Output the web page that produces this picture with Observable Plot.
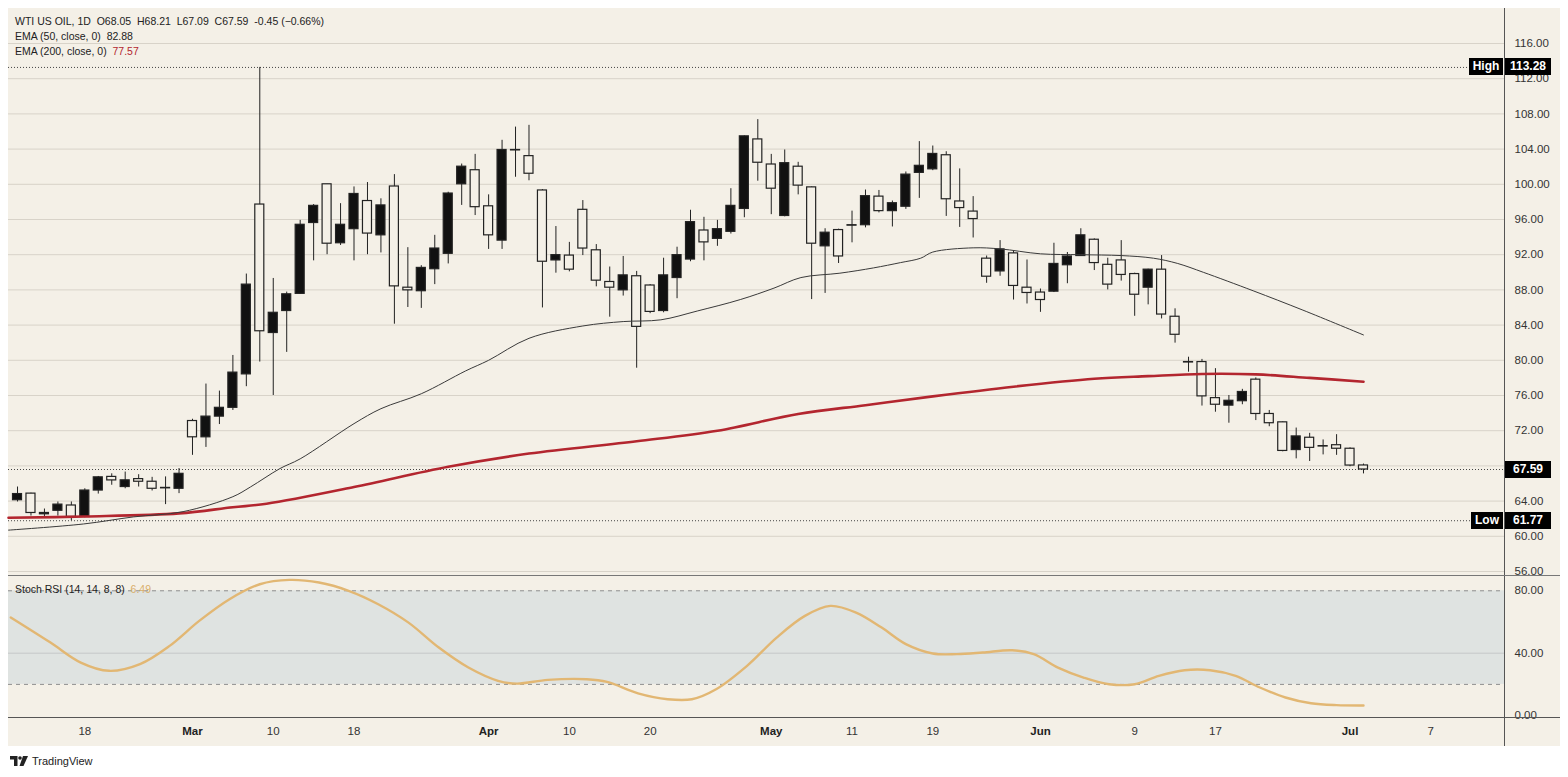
<!DOCTYPE html>
<html><head><meta charset="utf-8">
<script src="https://cdn.jsdelivr.net/npm/d3@7"></script>
<script src="https://cdn.jsdelivr.net/npm/@observablehq/plot@0.6"></script>
<style>
body{margin:0;background:#fff;}
#wrap{position:relative;width:1568px;height:777px;overflow:hidden;font-family:"Liberation Sans",Arial,sans-serif;color:#222;}
#bg{position:absolute;left:8px;top:8px;width:1552px;height:738px;background:#F4F0E7;}
.abs{position:absolute;}
.hdr{position:absolute;left:15px;font-size:10.5px;white-space:pre;color:#222;line-height:12px;}
.box{position:absolute;background:#000;color:#fff;font-weight:bold;font-size:12px;height:17px;line-height:17px;text-align:center;}
.sep{position:absolute;background:#555;}
</style></head><body>
<div id="wrap">
<div id="bg"></div>
<div id="main" class="abs" style="left:0;top:0"></div>
<div id="stoch" class="abs" style="left:0;top:575px"></div>
<div class="sep" style="left:1504px;top:8px;width:1px;height:738px"></div>
<div class="sep" style="left:8px;top:575px;width:1552px;height:1px;background:#777"></div>
<div class="sep" style="left:8px;top:717px;width:1552px;height:1px;background:#555"></div>
<div id="h1" class="hdr" style="top:15px"></div>
<div id="h2" class="hdr" style="top:30px"></div>
<div id="h3" class="hdr" style="top:45px"></div>
<div id="sl" class="hdr" style="top:583px"></div>
<div class="abs" style="left:10px;top:755px;display:flex;align-items:center;gap:3px;font-size:11px;color:#222">
<svg width="19" height="10" viewBox="0 0 19 10"><path d="M0 0h7.5v10h-3.5v-6.5h-4z" fill="#222"/><circle cx="10" cy="2" r="1.8" fill="#222"/><path d="M13 0h5l-4.5 10h-4z" fill="#222"/></svg>
<span>TradingView</span></div>
</div>
<script>
// ---- data ----
const open  = [64.1,64.85,62.5,62.9,63.5,62.2,65.2,66.75,65.6,66.5,66.2,65.5,65.4,73.1,71.25,73.6,74.6,78.4,97.7,83.1,85.6,87.55,95.6,100.0,93.3,94.9,98.1,94.2,99.75,88.25,87.85,90.35,92.1,100.0,101.6,97.5,93.6,103.9,103.2,99.3,91.35,91.9,97.1,92.5,88.9,87.95,89.55,88.5,85.6,89.35,91.45,94.75,93.8,94.6,97.2,105.1,102.25,96.4,102.0,99.65,92.95,94.8,95.3,95.35,98.6,96.95,97.45,101.3,101.7,103.3,98.05,96.9,91.55,90.1,92.15,88.25,87.7,87.8,90.8,91.85,93.7,90.85,91.35,89.8,88.25,90.3,84.95,79.8,79.8,75.7,74.85,75.35,77.8,73.9,72.95,69.8,71.2,70.25,70.35,69.95,68.05];
const high  = [65.6,64.9,63.1,63.9,63.9,65.4,66.8,67.1,67.3,67.0,66.7,66.75,67.7,73.3,77.3,76.5,80.55,89.8,113.28,89.3,87.75,95.9,97.7,100.0,97.8,99.7,100.2,98.35,101.1,92.8,90.75,94.2,99.1,102.3,103.4,98.8,105.0,106.5,106.7,99.4,95.2,93.4,98.15,93.15,90.6,91.8,90.1,88.6,91.6,92.85,97.05,96.25,95.9,99.5,105.5,107.35,103.4,103.9,102.5,99.7,94.95,94.9,96.95,99.35,99.3,98.1,101.4,104.85,104.35,103.7,101.75,98.6,91.85,93.6,92.4,91.4,88.1,93.3,92.25,94.95,93.8,91.6,93.6,89.9,90.35,91.9,85.85,80.35,80.1,79.05,76.0,76.7,78.0,74.3,73.0,72.3,71.7,70.95,71.55,70.05,68.21];
const low   = [63.9,62.3,62.1,62.3,61.77,62.1,64.8,65.8,65.4,65.6,65.15,63.6,64.85,69.2,70.1,72.7,74.3,77.0,79.8,76.0,80.9,87.5,91.3,92.0,93.05,91.3,92.0,92.2,84.1,86.0,85.9,88.6,90.95,97.6,96.45,92.6,92.6,100.8,100.4,85.95,89.9,90.05,91.9,88.35,84.9,87.3,79.1,85.3,85.4,87.0,91.2,91.3,92.95,94.35,96.2,100.35,96.55,96.3,98.8,86.9,87.6,91.0,93.35,95.05,96.75,95.15,97.15,98.4,101.55,96.35,95.1,93.9,88.75,89.55,86.85,86.4,85.45,87.7,88.7,91.8,90.2,88.0,89.0,85.0,86.3,84.7,81.95,78.65,74.8,74.1,72.85,74.95,73.15,72.45,69.6,68.8,68.5,69.25,69.2,67.9,67.09];
const close = [64.8,62.65,62.65,63.6,62.2,65.2,66.7,66.35,66.36,66.2,65.4,65.45,67.1,71.25,73.6,74.6,78.6,88.6,83.3,85.4,87.5,95.4,97.55,93.25,95.4,98.9,94.4,97.6,88.4,87.95,90.5,92.7,98.95,102.0,97.4,94.2,103.9,103.85,101.2,91.2,91.95,90.3,92.7,89.05,88.25,89.65,83.8,85.5,89.65,91.95,95.7,93.4,94.9,97.55,105.45,102.45,99.5,102.4,99.85,93.25,94.5,91.8,95.35,98.65,96.95,97.85,101.1,102.1,103.45,98.3,97.3,96.05,89.5,92.6,88.45,87.65,86.85,90.95,91.8,94.2,91.05,88.6,89.7,87.45,90.3,85.2,82.9,79.75,75.9,74.95,75.4,76.4,73.9,72.85,69.7,71.35,70.05,70.2,69.95,68.04,67.59];

const ema50Idx = [-0.67,4.9,8.6,12.3,16,17.3,19.5,21,25,27,30,33.3,35,38,42,45,47.8,50.5,53.7,56.2,58.2,61.1,63.6,65.6,67.1,68,71,73,76,79,82,84.4,86.2,88.1,91.8,95.5,100];
const ema50    = [60.7,61.4,62.2,62.8,64.5,65.6,67.7,68.8,72.8,74.5,76.2,78.8,80.0,82.5,83.9,84.4,84.6,85.6,86.9,88.2,89.4,89.9,90.5,91.1,91.6,92.3,92.78,92.66,92.1,92.0,91.9,91.6,91.0,90.0,87.9,85.7,82.88];
const ema200Idx = [-0.67,5,12,16,18.5,25,32,38,46,52,58,63,68,74,80,84,88,92,96,100];
const ema200    = [62.1,62.25,62.6,63.3,63.7,65.6,67.9,69.4,70.8,72.0,73.9,74.9,75.9,77.0,77.9,78.2,78.45,78.4,78.0,77.57];

const stochIdx = [-0.5,2.45,4.7,6.8,9.1,11.3,13.5,15.75,18,20.2,22.4,24.6,26.8,29.05,31.3,33.5,35.7,37.1,39.4,42.3,43.8,46.1,48.3,50.1,51.9,54.2,56.4,58.5,60.4,62.3,64.2,66,68,69.8,71.7,73.9,75.5,77.3,79.2,81.1,83,84.8,86.7,88.6,90.5,92.3,94.2,96.1,98,100];
const stochVal = [62.9,46.8,34,28.7,33,44.7,60.7,74.6,84.2,87,85.3,80,71.4,59.6,43.6,30.8,22.3,20.5,22.9,23.3,21.6,14.3,10.5,10.5,16.9,31.9,50,63.9,70.3,66,56.4,45.8,39.8,39.4,40.4,41.9,39.4,30.8,24.4,20.1,20.1,25.5,29.1,29.1,25.5,18,11.6,7.9,6.7,6.49];

const tickIdx    = [5,13,19,25,35,41,47,56,62,68,76,83,89,99,105];
const tickLabels = ["18","Mar","10","18","Apr","10","20","May","11","19","Jun","9","17","Jul","7"];
const monthNames = ["Mar","Apr","May","Jun","Jul"];
const priceTicks = [56,60,64,68,72,76,80,84,88,92,96,100,104,108,112,116];
const stochTicks = [0,40,80];
const stochBand  = [20,80];

// ---- build ----
const BG = "#F4F0E7";
const candles = open.map((o,i)=>({i, o, h:high[i], l:low[i], c:close[i]}));
const e50 = ema50Idx.map((x,k)=>({x, y:ema50[k]}));
const e200 = ema200Idx.map((x,k)=>({x, y:ema200[k]}));
const st = stochIdx.map((x,k)=>({x, y:stochVal[k]}));
const xDomain = [-0.67, 110.55];
const hi = d3.max(high), lo = d3.min(low), last = close[close.length-1];
// axis labels hidden behind the last-price tag (as on TradingView)
const labelTicks = priceTicks.filter(t => Math.abs(t - last) > 1.2);
const W = 1568, ML = 8, MR = 63;
const font = {background:"transparent", fontFamily:"Liberation Sans, Arial, sans-serif", fontSize:"11.5px", color:"#333", overflow:"visible"};

const main = Plot.plot({
  width: W, height: 575, marginLeft: ML, marginRight: MR, marginTop: 8, marginBottom: 0,
  style: font,
  x: {domain: xDomain, axis: null},
  y: {domain: [55.545, 119.977], axis: null},
  marks: [
    Plot.gridY(priceTicks, {stroke: "#D8D3C9", strokeOpacity: 1}),
    Plot.axisY(labelTicks, {anchor: "right", tickSize: 0, tickPadding: 9, tickFormat: d => d.toFixed(2), fill: "#333", label: null}),
    Plot.ruleY([hi, lo, last], {stroke: "#444", strokeDasharray: "1,2", strokeWidth: 1}),
    Plot.ruleX(candles, {x: "i", y1: "l", y2: "h", stroke: "#222", strokeWidth: 1}),
    Plot.rect(candles, {x1: d => d.i - 0.335, x2: d => d.i + 0.335, y1: "o", y2: "c",
      fill: d => d.c >= d.o ? "#111" : BG, stroke: "#222", strokeWidth: 1.2}),
    Plot.line(e200, {x: "x", y: "y", stroke: "#B3262F", strokeWidth: 2.6, curve: "catmull-rom"}),
    Plot.line(e50, {x: "x", y: "y", stroke: "#3a3a3a", strokeWidth: 1, curve: "catmull-rom"})
  ]
});
document.getElementById("main").appendChild(main);

const stoch = Plot.plot({
  width: W, height: 171, marginLeft: ML, marginRight: MR, marginTop: 0, marginBottom: 29,
  style: font,
  x: {domain: xDomain, axis: null},
  y: {domain: [-1.22, 89.8], axis: null},
  marks: [
    Plot.rect([0], {x1: xDomain[0], x2: xDomain[1], y1: stochBand[0], y2: stochBand[1], fill: "#DFE3E1"}),
    Plot.ruleY([40], {stroke: "#C5C9C8", strokeWidth: 1}),
    Plot.ruleY(stochBand, {stroke: "#8f8f8f", strokeDasharray: "4,4", strokeWidth: 1}),
    Plot.axisY(stochTicks, {anchor: "right", tickSize: 0, tickPadding: 9, tickFormat: d => d.toFixed(2), fill: "#333", label: null}),
    Plot.line(st, {x: "x", y: "y", stroke: "#E2B773", strokeWidth: 2.4, curve: "catmull-rom"}),
    Plot.axisX(tickIdx.filter((t,k)=>!monthNames.includes(tickLabels[k])), {anchor: "bottom", tickSize: 0, tickPadding: 9,
      tickFormat: d => tickLabels[tickIdx.indexOf(d)], fill: "#333", label: null}),
    Plot.axisX(tickIdx.filter((t,k)=>monthNames.includes(tickLabels[k])), {anchor: "bottom", tickSize: 0, tickPadding: 9,
      tickFormat: d => tickLabels[tickIdx.indexOf(d)], fill: "#222", fontWeight: "bold", label: null})
  ]
});
document.getElementById("stoch").appendChild(stoch);

// header
const prev = close[close.length-2];
const chg = last - prev;
const f2 = v => v.toFixed(2);
document.getElementById("h1").textContent =
  `WTI US OIL, 1D  O${f2(open[open.length-1])}  H${f2(high[high.length-1])}  L${f2(low[low.length-1])}  C${f2(last)}  ${f2(chg)} (−${Math.abs(chg/prev*100).toFixed(2)}%)`;
document.getElementById("h2").innerHTML = `EMA (50, close, 0)  <span>${f2(ema50[ema50.length-1])}</span>`;
document.getElementById("h3").innerHTML = `EMA (200, close, 0)  <span style="color:#B3262F">${f2(ema200[ema200.length-1])}</span>`;
document.getElementById("sl").innerHTML = `Stoch RSI (14, 14, 8, 8)  <span style="color:#D9AE6A">${f2(stochVal[stochVal.length-1])}</span>`;

// price tags on right axis
const ys = main.scale("y");
const wrap = document.getElementById("wrap");
function box(text, left, width, y){
  const b = document.createElement("div");
  b.className = "box"; b.textContent = text;
  b.style.left = left + "px"; b.style.width = width + "px"; b.style.top = (y - 8.5) + "px";
  wrap.appendChild(b);
}
box("High", 1469, 34, ys.apply(hi)); box(f2(hi), 1505, 46, ys.apply(hi));
box("Low", 1471, 32, ys.apply(lo)); box(f2(lo), 1505, 46, ys.apply(lo));
box(f2(last), 1505, 46, ys.apply(last));
</script>
</body></html>
